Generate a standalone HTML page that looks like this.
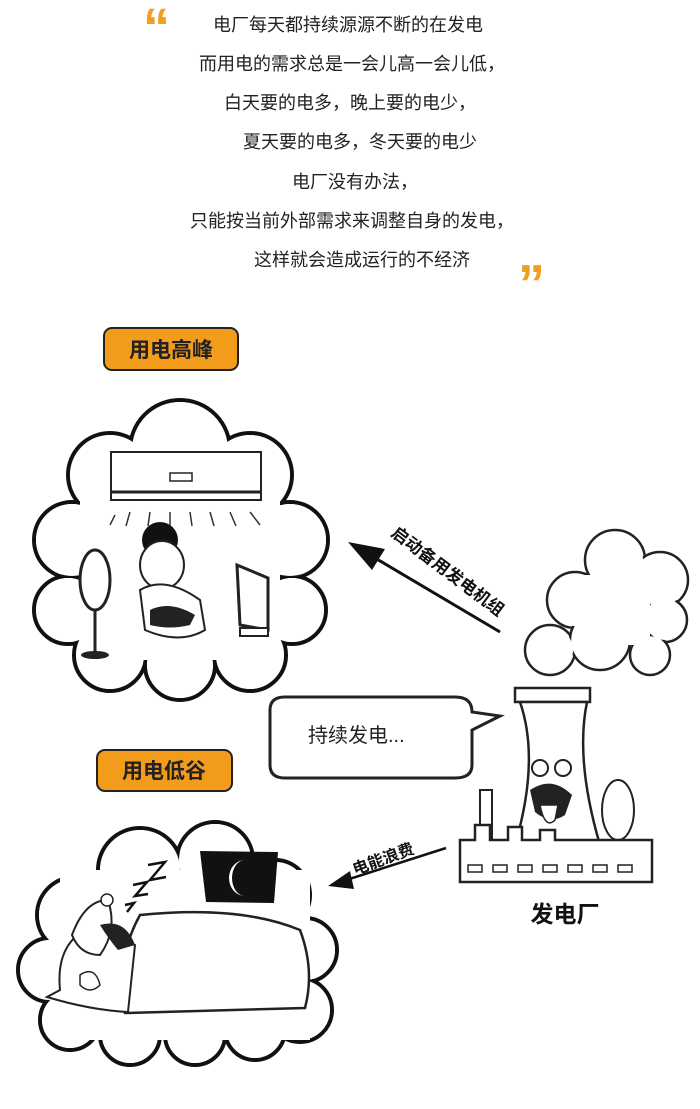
<!DOCTYPE html>
<html><head><meta charset="utf-8"><style>
html,body{margin:0;padding:0;background:#fff}
svg{display:block}
text{font-family:"Liberation Sans","Noto Sans CJK SC",sans-serif}
</style></head><body>
<svg width="700" height="1109" viewBox="0 0 700 1109" xmlns="http://www.w3.org/2000/svg">
<rect width="700" height="1109" fill="#fff"/>
<!-- quotes -->
<text x="143" y="46" font-size="54" font-weight="bold" fill="#f0a020" font-family="Liberation Serif, serif">“</text>
<text x="518" y="302" font-size="54" font-weight="bold" fill="#f0a020" font-family="Liberation Serif, serif">”</text>
<g font-size="18" fill="#222" text-anchor="middle">
<text x="348" y="31">电厂每天都持续源源不断的在发电</text>
<text x="352" y="70">而用电的需求总是一会儿高一会儿低，</text>
<text x="350" y="109">白天要的电多，晚上要的电少，</text>
<text x="360" y="148">夏天要的电多，冬天要的电少</text>
<text x="355" y="188">电厂没有办法，</text>
<text x="352" y="227">只能按当前外部需求来调整自身的发电，</text>
<text x="362" y="266">这样就会造成运行的不经济</text>
</g>
<!-- labels -->
<rect x="104" y="328" width="134" height="42" rx="8" fill="#f39c1c" stroke="#222" stroke-width="2"/>
<text x="171" y="357" font-size="21" font-weight="bold" text-anchor="middle" fill="#222">用电高峰</text>
<rect x="97" y="750" width="135" height="41" rx="8" fill="#f39c1c" stroke="#222" stroke-width="2"/>
<text x="164" y="778" font-size="21" font-weight="bold" text-anchor="middle" fill="#222">用电低谷</text>
<!-- cloud 1 -->
<g stroke="#111" stroke-width="4" fill="#fff">
<circle cx="180" cy="450" r="50"/><circle cx="110" cy="475" r="42"/><circle cx="250" cy="475" r="42"/>
<circle cx="72" cy="540" r="38"/><circle cx="290" cy="540" r="38"/><circle cx="68" cy="610" r="34"/>
<circle cx="292" cy="610" r="34"/><circle cx="110" cy="655" r="36"/><circle cx="180" cy="665" r="35"/><circle cx="250" cy="655" r="36"/>
</g>
<g fill="#fff"><circle cx="180" cy="450" r="48"/><circle cx="110" cy="475" r="40"/><circle cx="250" cy="475" r="40"/>
<circle cx="72" cy="540" r="36"/><circle cx="290" cy="540" r="36"/><circle cx="68" cy="610" r="32"/>
<circle cx="292" cy="610" r="32"/><circle cx="110" cy="655" r="34"/><circle cx="180" cy="665" r="33"/><circle cx="250" cy="655" r="34"/>
<rect x="80" y="460" width="200" height="200"/></g>
<!-- AC -->
<rect x="111" y="452" width="150" height="48" fill="#fff" stroke="#222" stroke-width="2"/>
<line x1="111" y1="492" x2="261" y2="492" stroke="#222" stroke-width="3"/>
<rect x="170" y="473" width="22" height="8" fill="#fff" stroke="#222" stroke-width="1.5"/>
<g stroke="#333" stroke-width="1.5"><line x1="115" y1="515" x2="110" y2="525"/><line x1="130" y1="512" x2="126" y2="526"/><line x1="150" y1="512" x2="148" y2="526"/><line x1="170" y1="512" x2="170" y2="526"/><line x1="190" y1="512" x2="192" y2="526"/><line x1="210" y1="512" x2="214" y2="526"/><line x1="230" y1="512" x2="236" y2="526"/><line x1="250" y1="512" x2="260" y2="525"/></g>
<!-- fan -->
<ellipse cx="95" cy="580" rx="15" ry="30" fill="#fff" stroke="#222" stroke-width="3"/>
<line x1="95" y1="610" x2="95" y2="655" stroke="#222" stroke-width="3"/>
<ellipse cx="95" cy="655" rx="14" ry="4" fill="#222"/>
<!-- person -->
<circle cx="160" cy="540" r="18" fill="#111"/>
<ellipse cx="162" cy="565" rx="22" ry="24" fill="#fff" stroke="#222" stroke-width="2"/>
<path d="M140 590 Q165 575 200 600 L205 630 Q180 645 145 630 Z" fill="#fff" stroke="#222" stroke-width="2"/>
<path d="M150 610 Q170 600 195 615 L190 625 Q170 630 150 625 Z" fill="#222"/>
<!-- TV -->
<path d="M237 565 L268 578 L268 630 L240 625 Z" fill="#fff" stroke="#222" stroke-width="3"/>
<rect x="240" y="628" width="28" height="8" fill="#fff" stroke="#222" stroke-width="2"/>
<!-- arrow 1 -->
<line x1="500" y1="632" x2="370" y2="555" stroke="#111" stroke-width="3"/>
<polygon points="348,542 385,549 372,570" fill="#111"/>
<text x="0" y="0" font-size="17" font-weight="bold" fill="#111" transform="translate(390 535) rotate(37)">启动备用发电机组</text>
<!-- smoke cloud -->
<g stroke="#222" stroke-width="2.5" fill="#fff">
<circle cx="615" cy="560" r="30"/><circle cx="660" cy="580" r="28"/><circle cx="575" cy="600" r="28"/><circle cx="665" cy="620" r="22"/><circle cx="550" cy="650" r="25"/><circle cx="600" cy="640" r="30"/><circle cx="650" cy="655" r="20"/>
</g>
<g fill="#fff"><circle cx="615" cy="560" r="28"/><circle cx="660" cy="580" r="26"/><circle cx="575" cy="600" r="26"/><circle cx="665" cy="620" r="20"/><circle cx="550" cy="650" r="23"/><circle cx="600" cy="640" r="28"/><circle cx="650" cy="655" r="18"/><rect x="580" y="575" width="70" height="70"/></g>
<!-- speech bubble -->
<path d="M285 697 L455 697 Q472 697 472 712 L500 716 L472 730 L472 765 Q472 778 455 778 L285 778 Q270 778 270 765 L270 710 Q270 697 285 697 Z" fill="#fff" stroke="#222" stroke-width="3"/>
<text x="308" y="742" font-size="20" fill="#222">持续发电...</text>
<!-- power plant -->
<rect x="515" y="688" width="75" height="14" fill="#fff" stroke="#222" stroke-width="2.5"/>
<path d="M520 702 L587 702 Q575 760 600 845 L515 845 Q540 760 520 702 Z" fill="#fff" stroke="#222" stroke-width="2.5"/>
<circle cx="540" cy="768" r="8" fill="#fff" stroke="#222" stroke-width="2"/><circle cx="563" cy="768" r="8" fill="#fff" stroke="#222" stroke-width="2"/>
<path d="M530 790 Q552 775 572 795 L565 815 Q550 825 535 812 Z" fill="#222"/>
<path d="M540 805 Q545 830 555 820 L558 805 Z" fill="#fff" stroke="#222" stroke-width="1.5"/>
<rect x="480" y="790" width="12" height="50" fill="#fff" stroke="#222" stroke-width="2"/>
<ellipse cx="618" cy="810" rx="16" ry="30" fill="#fff" stroke="#222" stroke-width="2"/>
<path d="M460 840 L475 840 L475 825 L490 825 L490 840 L508 840 L508 827 L522 827 L522 840 L540 840 L540 830 L555 830 L555 840 L652 840 L652 882 L460 882 Z" fill="#fff" stroke="#222" stroke-width="2.5"/>
<g fill="#fff" stroke="#222" stroke-width="1.5"><rect x="468" y="865" width="14" height="7"/><rect x="493" y="865" width="14" height="7"/><rect x="518" y="865" width="14" height="7"/><rect x="543" y="865" width="14" height="7"/><rect x="568" y="865" width="14" height="7"/><rect x="593" y="865" width="14" height="7"/><rect x="618" y="865" width="14" height="7"/></g>
<text x="565" y="922" font-size="23" font-weight="bold" text-anchor="middle" fill="#111">发电厂</text>
<!-- arrow 2 -->
<line x1="446" y1="848" x2="340" y2="882" stroke="#111" stroke-width="2.5"/>
<polygon points="328,886 350,871 354,889" fill="#111"/>
<text x="0" y="0" font-size="16" font-weight="bold" fill="#111" transform="translate(355 875) rotate(-20)">电能浪费</text>
<!-- cloud 2 -->
<g stroke="#111" stroke-width="4" fill="#fff">
<circle cx="215" cy="860" r="38"/><circle cx="140" cy="870" r="42"/><circle cx="275" cy="895" r="35"/><circle cx="75" cy="915" r="38"/>
<circle cx="50" cy="970" r="32"/><circle cx="305" cy="950" r="32"/><circle cx="300" cy="1010" r="32"/><circle cx="70" cy="1020" r="30"/>
<circle cx="130" cy="1035" r="30"/><circle cx="195" cy="1035" r="30"/><circle cx="255" cy="1030" r="30"/>
</g>
<g fill="#fff"><circle cx="215" cy="860" r="36"/><circle cx="140" cy="870" r="40"/><circle cx="275" cy="895" r="33"/><circle cx="75" cy="915" r="36"/>
<circle cx="50" cy="970" r="30"/><circle cx="305" cy="950" r="30"/><circle cx="300" cy="1010" r="30"/><circle cx="70" cy="1020" r="28"/>
<circle cx="130" cy="1035" r="28"/><circle cx="195" cy="1035" r="28"/><circle cx="255" cy="1030" r="28"/>
<rect x="60" y="870" width="250" height="170"/></g>
<!-- moon -->
<polygon points="200,851 278,852 274,903 206,902" fill="#111"/>
<path d="M245 860 A16 18 0 1 0 245 896 A13 18 0 1 1 245 860 Z" fill="#fff"/>
<g stroke="#111" stroke-width="2.5" fill="none"><path d="M148 865 L165 862 L150 880 L166 877"/><path d="M133 885 L147 882 L135 896 L148 894"/><path d="M125 905 L134 903 L127 912"/></g>
<!-- sleeper -->
<path d="M140 915 Q240 905 300 930 Q315 970 305 1008 L125 1013 Q115 960 140 915 Z" fill="#fff" stroke="#222" stroke-width="2.5"/>
<path d="M60 990 Q55 940 95 925 Q110 935 135 945 L128 1012 Q90 1010 47 997 Z" fill="#fff" stroke="#222" stroke-width="2"/>
<path d="M72 935 Q85 900 108 900 Q118 930 100 955 Q80 955 72 935 Z" fill="#fff" stroke="#222" stroke-width="2"/>
<circle cx="107" cy="900" r="6" fill="#fff" stroke="#222" stroke-width="1.5"/>
<path d="M100 925 Q125 918 135 945 L118 950 Q108 938 100 925 Z" fill="#222"/>
<path d="M80 975 Q95 965 100 985 Q90 995 80 985 Z" fill="#fff" stroke="#222" stroke-width="1.5"/>
</svg>
</body></html>
